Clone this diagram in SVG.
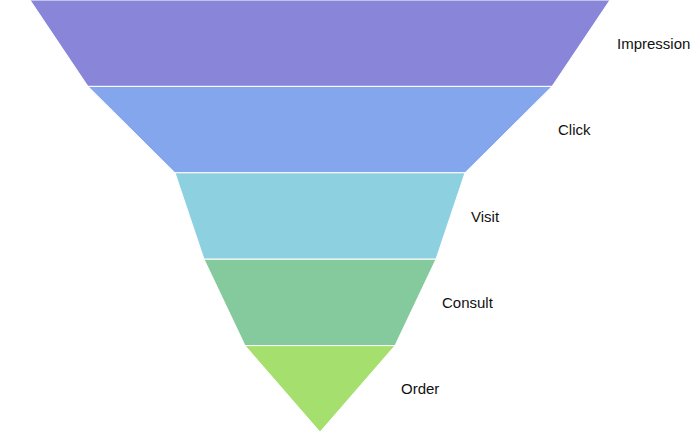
<svg xmlns="http://www.w3.org/2000/svg" width="700" height="438" viewBox="0 0 700 438">
<style>
.seg{stroke:#ffffff;stroke-width:1;stroke-linejoin:round}
.lbl{font-family:"Liberation Sans",Arial,sans-serif;font-size:15px;fill:#111111}
</style>
<rect width="700" height="438" fill="#ffffff"/>
<g id="impression">
<polygon class="seg" points="30,0 610,0 552,86.4 88,86.4" fill="#8986d9"/>
<text class="lbl" x="617" y="48.7">Impression</text>
</g>
<g id="click">
<polygon class="seg" points="88,86.4 552,86.4 465,172.8 175,172.8" fill="#84a6ec"/>
<text class="lbl" x="558" y="135.1">Click</text>
</g>
<g id="visit">
<polygon class="seg" points="175,172.8 465,172.8 436,259.2 204,259.2" fill="#8dd0e0"/>
<text class="lbl" x="471" y="221.5">Visit</text>
</g>
<g id="consult">
<polygon class="seg" points="204,259.2 436,259.2 395,345.6 245,345.6" fill="#85ca9d"/>
<text class="lbl" x="442" y="307.9">Consult</text>
</g>
<g id="order">
<polygon class="seg" points="245,345.6 395,345.6 320,432 320,432" fill="#a5df6e"/>
<text class="lbl" x="401" y="394.3">Order</text>
</g>
<g id="connectors"></g>
</svg>
